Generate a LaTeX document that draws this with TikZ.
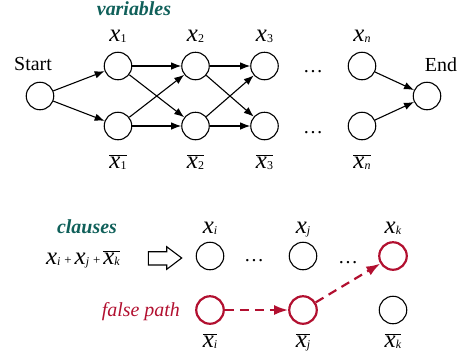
\documentclass[tikz,border=0pt]{standalone}
\usepackage{fontspec}
\setmainfont{Liberation Serif}
\usetikzlibrary{positioning, arrows.meta}

\definecolor{headteal}{RGB}{16,96,90}
\definecolor{pathred}{RGB}{178,16,48}

\newcommand{\xvar}[1]{\textit{x}{\fontsize{12}{13}\selectfont\raisebox{-1bp}{#1}}}
\newcommand{\xneg}[1]{$\overline{\mbox{\xvar{#1}}}$}
\newcommand{\plussign}{\hspace{4bp}{\fontsize{13}{13}\selectfont +}\hspace{3bp}}

\begin{document}
\begin{tikzpicture}[x=1bp, y=-1bp,
    state/.style={circle, draw, line width=1.1bp, minimum size=27.5bp, inner sep=0pt},
    redstate/.style={state, draw=pathred, line width=2.2bp},
    var/.style={font=\fontsize{25}{27}\selectfont, anchor=base, inner sep=0pt},
    word/.style={font=\fontsize{20}{22}\selectfont, anchor=base, inner sep=0pt},
    flow/.style={-{Latex[length=10bp, width=7.5bp]}, line width=1.1bp},
    falseflow/.style={-{Latex[length=14bp, width=10bp]}, line width=2.2bp, pathred, dash pattern=on 9bp off 6bp}
]
    \useasboundingbox (0,0) rectangle (465,360);

    % Variable graph
    \node[word, font=\fontsize{20}{22}\selectfont\bfseries\itshape, text=headteal] (varhead) at (134,15.5) {variables};
    \node[state] (start) at (40,96) {};
    \node[word] (startlbl) at (33,70) {Start};
    \node[state] (end) at (427,96) {};
    \node[word] (endlbl) at (441,71.5) {End};

    % Columns x1 .. xn, positive on top and negated below
    \foreach \i/\x/\s in {1/118/1, 2/195.5/2, 3/264.5/3, n/362/\textit{n}} {
        \node[state] (top\i) at (\x,66) {};
        \node[state] (bot\i) at (\x,126) {};
        \node[var] (toplbl\i) at (\x,41.5) {\xvar{\s}};
        \node[var] (botlbl\i) at (\x,168) {\xneg{\s}};
    }
    \node[word] (dotstop) at (313,72.5) {\ldots};
    \node[word] (dotsbot) at (313,133.5) {\ldots};

    \draw[flow] (start) -- (top1);
    \draw[flow] (start) -- (bot1);
    \foreach \a/\b in {1/2, 2/3} {
        \draw[flow] (top\a) -- (top\b);
        \draw[flow] (top\a) -- (bot\b);
        \draw[flow] (bot\a) -- (top\b);
        \draw[flow] (bot\a) -- (bot\b);
    }
    \draw[flow] (topn) -- (end);
    \draw[flow] (botn) -- (end);

    % Clause part
    \node[word, font=\fontsize{20}{22}\selectfont\bfseries\itshape, text=headteal] (clausehead) at (87,233) {clauses};
    \node[var] (clause) at (83,264) {\xvar{\textit{i}}\plussign\xvar{\textit{j}}\plussign\xneg{\textit{k}}};
    \draw[line width=1.1bp] (148.3,251.7) -- (166.7,251.7) -- (166.7,246.7) -- (181.7,258)
        -- (166.7,269.3) -- (166.7,265) -- (148.3,265) -- cycle;

    \foreach \v/\x/\ts/\bs in {i/210/state/redstate, j/303/state/redstate, k/393/redstate/state} {
        \node[\ts] (top\v) at (\x,256) {};
        \node[\bs] (bot\v) at (\x,310) {};
        \node[var] (toplbl\v) at (\x,233.3) {\xvar{\textit{\v}}};
        \node[var] (botlbl\v) at (\x,347) {\xneg{\textit{\v}}};
    }
    \node[word] (dotsij) at (254,261) {\ldots};
    \node[word] (dotsjk) at (348,263) {\ldots};

    % False path
    \node[word, font=\fontsize{20}{22}\selectfont\itshape, text=pathred, anchor=base east] (falselbl) at (180,316.7) {false path};
    \draw[falseflow] (boti) -- (botj);
    \draw[falseflow] (botj) -- (topk);

\end{tikzpicture}
\end{document}
